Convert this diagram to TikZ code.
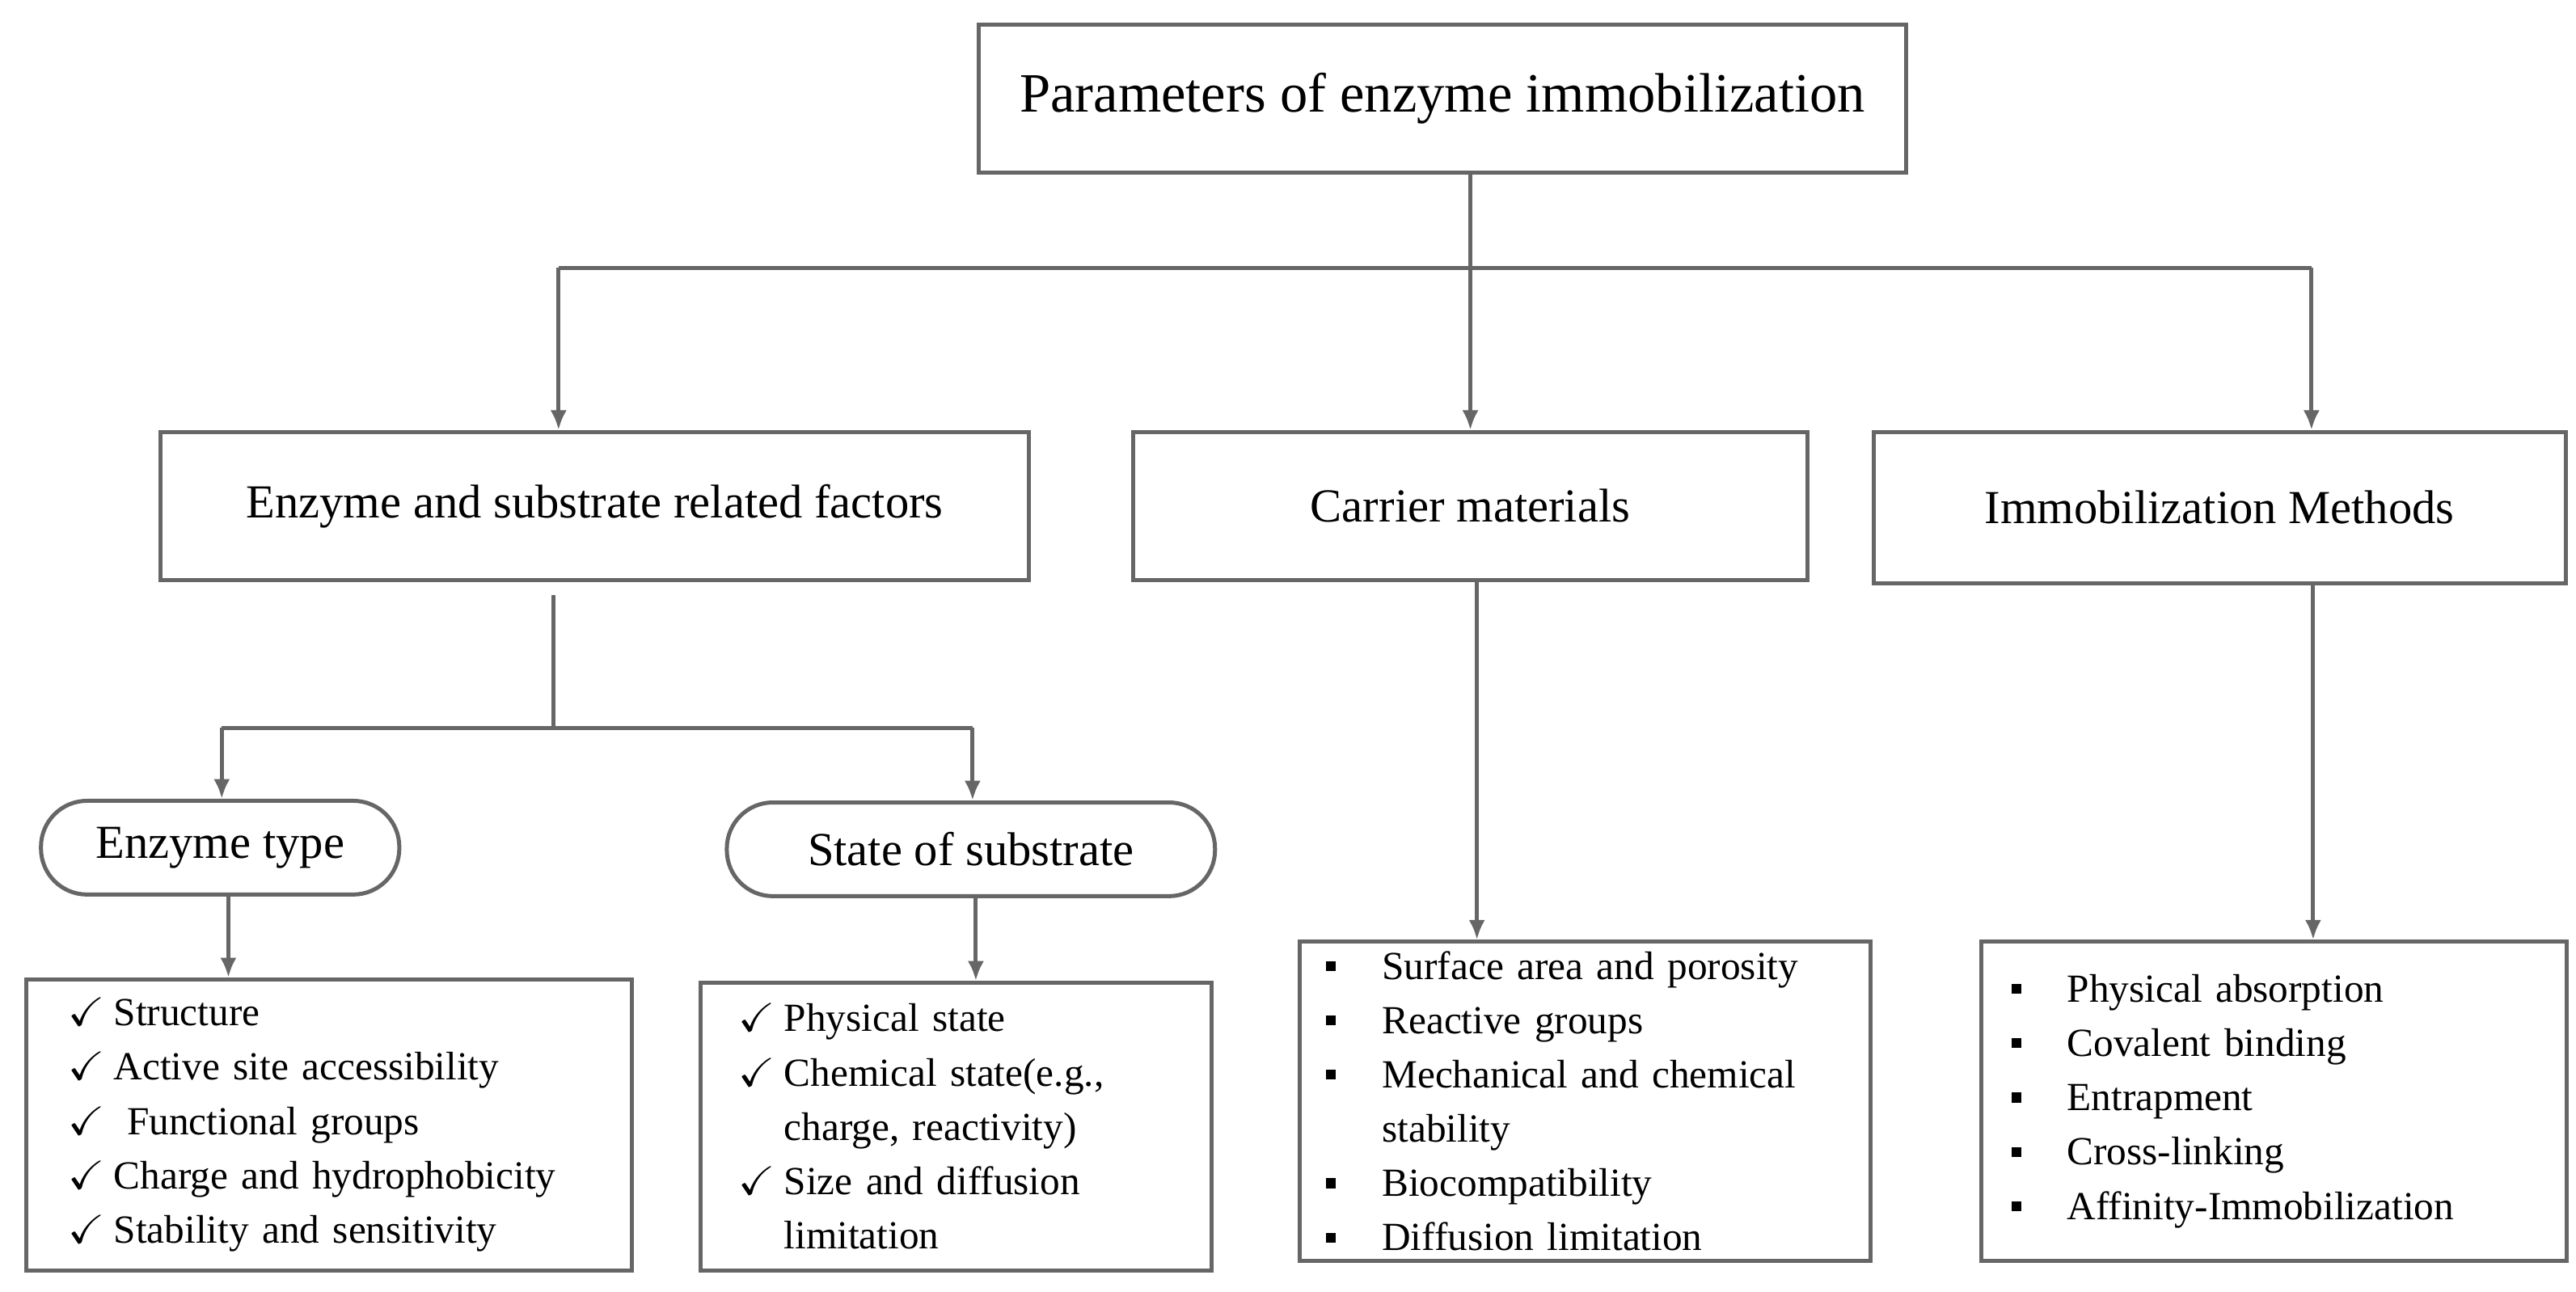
\documentclass[tikz,border=0pt]{standalone}
\usepackage{fontspec}
\setmainfont{Liberation Serif}
\usepackage{amssymb}
\usetikzlibrary{positioning}
\usetikzlibrary{arrows.meta}

\newcommand{\ck}{\makebox[0.28cm][l]{$\checkmark$}}
\newcommand{\sqb}{\makebox[0.34cm][l]{\raisebox{0.05cm}{\rule{0.06cm}{0.06cm}}}}

\tikzset{
  box/.style={draw=black!60, line width=0.7pt, inner sep=0pt},
  head/.style={box, font=\fontsize{9.6}{11}\selectfont},
  cat/.style={box, font=\fontsize{8.2}{10}\selectfont},
  pill/.style={box, rounded corners=0.28cm, font=\fontsize{8.2}{10}\selectfont},
  list/.style={box, anchor=north west, align=left, font=\fontsize{6.9}{9.4}\selectfont},
  arr/.style={draw=black!60, line width=0.7pt, -{Latex[length=0.12cm,width=0.1cm]}},
  ln/.style={draw=black!60, line width=0.7pt}
}

\begin{document}
\begin{tikzpicture}[x=0.01cm, y=-0.01cm]
  \useasboundingbox (0,0) rectangle (1568,786);

  % Title and categories
  \node[head, minimum width=5.64cm, minimum height=0.9cm] (top) at (878,60) {Parameters of enzyme immobilization};
  \node[cat, minimum width=5.28cm, minimum height=0.9cm] (enz) at (362,308) {Enzyme and substrate related factors};
  \node[cat, minimum width=4.1cm, minimum height=0.9cm] (car) at (895,308) {Carrier materials};
  \node[cat, minimum width=4.21cm, minimum height=0.92cm] (imm) at (1351,309) {Immobilization Methods};

  % Sub-factors
  \node[pill, minimum width=2.18cm, minimum height=0.57cm] (type) at (134,516) {Enzyme type};
  \node[pill, minimum width=2.97cm, minimum height=0.57cm] (state) at (591,517) {State of substrate};

  % Lists
  \node[list, text width=3.18cm, inner xsep=0.25cm, minimum height=1.77cm] (typelist) at (15,595) {%
    \ck Structure\\
    \ck Active site accessibility\\
    \ck\ Functional groups\\
    \ck Charge and hydrophobicity\\
    \ck Stability and sensitivity};
  \node[list, text width=2.65cm, inner xsep=0.23cm, minimum height=1.75cm] (statelist) at (425,597) {%
    \ck Physical state\\
    \ck Chemical state(e.g.,\\
    \hspace*{0.28cm}charge, reactivity)\\
    \ck Size and diffusion\\
    \hspace*{0.28cm}limitation};
  \node[list, text width=3.15cm, inner xsep=0.16cm, minimum height=1.94cm] (carlist) at (790,572) {%
    \sqb Surface area and porosity\\
    \sqb Reactive groups\\
    \sqb Mechanical and chemical\\
    \hspace*{0.34cm}stability\\
    \sqb Biocompatibility\\
    \sqb Diffusion limitation};
  \node[list, text width=3.2cm, inner xsep=0.18cm, minimum height=1.94cm] (immlist) at (1205,572) {%
    \sqb Physical absorption\\
    \sqb Covalent binding\\
    \sqb Entrapment\\
    \sqb Cross-linking\\
    \sqb Affinity-Immobilization};

  % Connectors
  \coordinate (busL) at (340,163);
  \coordinate (busR) at (1407,163);
  \draw[arr] (top.south -| car.north) -- (car.north);
  \draw[ln] (busL) -- (busR);
  \draw[arr] (busL) -- (busL |- enz.north);
  \draw[arr] (busR) -- (busR |- imm.north);

  \coordinate (stem) at (337,362);
  \coordinate (subL) at (135,443);
  \coordinate (subR) at (592,443);
  \draw[ln] (stem) -- (stem |- subL);
  \draw[ln] (subL) -- (subR);
  \draw[arr] (subL) -- (subL |- type.north);
  \draw[arr] (subR) -- (subR |- state.north);

  \coordinate (carstem) at (899,353);
  \coordinate (immstem) at (1408,355);
  \draw[arr] ([xshift=0.05cm]type.south) -- ([xshift=0.05cm]type.south |- typelist.north);
  \draw[arr] ([xshift=0.03cm]state.south) -- ([xshift=0.03cm]state.south |- statelist.north);
  \draw[arr] (carstem) -- (carstem |- carlist.north);
  \draw[arr] (immstem) -- (immstem |- immlist.north);
\end{tikzpicture}
\end{document}
